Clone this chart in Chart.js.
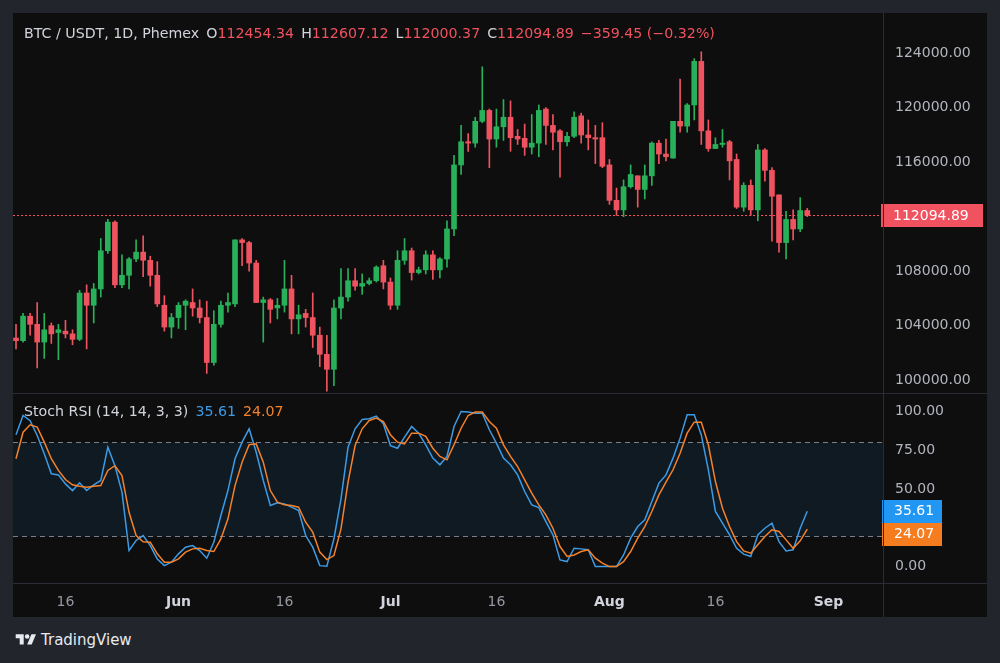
<!DOCTYPE html>
<html>
<head>
<meta charset="utf-8">
<script src="https://cdn.jsdelivr.net/npm/chart.js@4.4.1/dist/chart.umd.min.js"></script>
<style>
  html, body { margin: 0; padding: 0; width: 1000px; height: 663px; overflow: hidden; background: #22252c; font-family: "DejaVu Sans", sans-serif; }
  #panel { position: absolute; left: 13px; top: 13px; width: 974px; height: 604px; background: #0e0e0e; }
  #priceWrap { position: absolute; left: 0; top: 0; width: 974px; height: 380px; }
  #stochWrap { position: absolute; left: 0; top: 380px; width: 974px; height: 224px; }
  .hl { position: absolute; height: 1px; background: #2a2d34; }
  .vl { position: absolute; width: 1px; background: #2a2d34; }
  .legend { position: absolute; font-size: 14.2px; color: #d1d4dc; white-space: nowrap; }
  .legend .r { color: #f0525f; }
  .legend span.gap { margin-left: 7px; }
  #logo { position: absolute; left: 14px; top: 631px; color: #e8eaf0; font-size: 15px; font-weight: normal; display: flex; align-items: center; gap: 3px; }
</style>
</head>
<body>
<div id="panel">
  <div id="priceWrap"><canvas id="priceChart" width="974" height="380"></canvas></div>
  <div id="stochWrap"><canvas id="stochChart" width="974" height="224"></canvas></div>
  <div class="hl" style="left:0;top:380px;width:974px;"></div>
  <div class="hl" style="left:0;top:570px;width:974px;"></div>
  <div class="vl" style="left:870px;top:0;height:604px;"></div>
  <div class="legend" id="priceLegend" style="left:11px;top:12px;"></div>
  <div class="legend" id="stochLegend" style="left:11px;top:390px;"></div>
</div>
<div id="logo">
  <svg width="24" height="16" viewBox="0 0 36 28"><path d="M14 22H7V11H0V4h14v18zM28 22h-8l7.5-18h8L28 22z" fill="#e8eaf0"/><circle cx="20" cy="8" r="4" fill="#e8eaf0"/></svg>
  <span>TradingView</span>
</div>
<script>
// daily candles, 9 May -> 29 Aug
const openP = [
  103100, 102900, 104700, 104100, 102800, 104000, 103500, 103600, 103400, 103000,
  106400, 105500, 106700, 109500, 111600, 107000, 107700, 108900, 109400, 108800,
  107700, 105500, 103900, 104600, 105500, 105700, 105300, 104600, 101300, 104100,
  105500, 105600, 110300, 110100, 108600, 105700, 105900, 105300, 105500, 106700,
  104500, 104900, 104600, 103300, 101900, 100800, 105300, 106100, 107300, 106900,
  107100, 107300, 108400, 107200, 105500, 108800, 109500, 107900, 108100, 109200,
  108100, 108900, 111100, 115800, 117500, 117400, 119000, 119800, 117700, 118600,
  119300, 117900, 117750, 117100, 117400, 119900, 118700, 118300, 117500, 117900,
  119400, 118000, 117800, 117800, 115800, 113200, 112500, 114200, 115000, 114000,
  115000, 117400, 116600, 116300, 119000, 118650, 120200, 123400, 118300, 117000,
  117300, 117500, 116200, 112700, 114300, 112500, 116900, 115400, 113600, 110100,
  111800, 111100, 112454.34
];
const highP = [
  104100, 104900, 104900, 105700, 104900, 104200, 104100, 104400, 103700, 106600,
  107000, 107100, 110400, 111800, 111700, 109200, 109000, 110300, 110600, 109100,
  108700, 106200, 104900, 105700, 105900, 106700, 105900, 105800, 105100, 105800,
  106400, 110300, 110400, 110200, 108800, 106100, 106000, 106000, 108800, 107700,
  105500, 105200, 106400, 103900, 103300, 105900, 108200, 108200, 108200, 107800,
  107500, 108400, 108800, 107500, 109500, 110400, 109700, 108300, 109500, 109500,
  109000, 111700, 116500, 118700, 118100, 119300, 123000, 119900, 119900, 120600,
  120500, 118400, 118800, 119500, 120200, 120000, 119500, 118400, 118200, 119700,
  119600, 119100, 118700, 118900, 116200, 114100, 114700, 115800, 115000, 115800,
  117500, 117600, 117700, 119000, 122100, 120300, 123600, 124100, 119100, 117800,
  118400, 117600, 116600, 114500, 114700, 117300, 117000, 115600, 113600, 112400,
  112500, 113400, 112607.12
];
const lowP = [
  102300, 102800, 103300, 100900, 101600, 102700, 101500, 103100, 102600, 102900,
  102300, 104200, 106100, 109300, 106800, 106800, 106700, 108700, 107600, 106900,
  105400, 103600, 103100, 103800, 103700, 104700, 104200, 100500, 101100, 103900,
  105000, 105400, 108400, 108000, 105700, 102800, 104200, 104500, 105000, 103400,
  103400, 103900, 102400, 101000, 99200, 99600, 104500, 105800, 106600, 106300,
  107000, 107200, 106700, 105200, 105200, 108500, 107350, 107800, 107800, 107400,
  107500, 108300, 110600, 115100, 116800, 117100, 118900, 115600, 117100, 117600,
  116800, 117300, 116500, 116600, 116400, 117300, 116900, 114900, 117200, 117800,
  117400, 116900, 115900, 115600, 112900, 112100, 112000, 114100, 112700, 113300,
  114300, 115900, 116100, 116300, 118200, 118200, 119100, 117300, 116800, 117000,
  117100, 114700, 112600, 112400, 112100, 111700, 114600, 110200, 109400, 108900,
  110300, 110900, 112000.37
];
const closeP = [
  102900, 104700, 104100, 102800, 103700, 103400, 103700, 103400, 103000, 106400,
  105500, 106700, 109500, 111600, 107000, 107700, 108900, 109400, 108800, 107700,
  105600, 103900, 104600, 105500, 105800, 105300, 104600, 101300, 104100, 105500,
  105700, 110300, 110100, 108600, 105700, 105900, 105200, 105500, 106700, 104500,
  104800, 104600, 103300, 101900, 100800, 105300, 106100, 107300, 106900, 107100,
  107300, 108300, 107200, 105500, 108800, 109500, 107900, 108100, 109200, 108100,
  108900, 111100, 115800, 117500, 117400, 119000, 119800, 117700, 118600, 119300,
  117800, 117700, 117100, 117400, 119800, 118700, 118200, 117500, 117900, 119300,
  118000, 117800, 117700, 115700, 113200, 112500, 114200, 115100, 114000, 115000,
  117400, 116600, 116400, 119000, 118650, 120200, 123400, 118300, 117000, 117300,
  117400, 116100, 112700, 114300, 112500, 116900, 115400, 113500, 110100, 111800,
  111100, 112454.34, 112094.89
];

// Stoch RSI (14, 14, 3, 3): %K and %D
const stochK = [
  85, 97.4, 94, 84.5, 72.7, 59.8, 59.1, 53.3, 49, 54,
  49, 52.7, 55.5, 77, 65, 48, 10.3, 16.8, 20, 13.5,
  4.9, 0.6, 2.8, 8.2, 12.5, 13.5, 10.3, 5.4, 15.7, 32.9,
  49, 69.5, 80.2, 88.8, 73.7, 55.5, 39.4, 41.1, 40.4, 38.3,
  36.1, 20, 12.5, 0.6, 0.2, 17.9, 43.7, 77, 88.8, 94.8,
  95.3, 97, 92, 78, 76.3, 83.4, 90.3, 86, 78.5, 69.9,
  65.6, 71, 90.3, 100, 99.6, 98.9, 98.9, 88.2, 79.6, 69.9,
  65.6, 59.1, 48.4, 39.8, 38, 29, 20.4, 4.3, 3.2, 11.8,
  11.4, 10.8, 0, 0, 0, 0, 7.5, 18.3, 25.8, 30.1,
  41.9, 53.8, 59.1, 69.9, 82.8, 97.8, 97.8, 84.9, 62.4, 35.5,
  28, 20.4, 11.8, 8, 6.5, 20.4, 24.7, 28, 16.1, 10.1,
  10.8, 24.7, 35.61
];
const stochD = [
  69.5, 86.6, 91.4, 89.9, 80.2, 69.5, 62, 56.1, 52.7, 51.8,
  51.2, 51.8, 52.2, 62, 65, 58.7, 35, 20, 16, 15.7,
  8.2, 2.8, 2.8, 5, 9.3, 11.4, 11.8, 10.3, 9.7, 17.8,
  30.8, 52.2, 67.3, 78.5, 79.1, 67.3, 49, 41.5, 39.8, 39.4,
  38.3, 28.6, 22.2, 9.3, 4.5, 7.1, 24.3, 54.4, 78, 88.8,
  94.2, 95.7, 93.5, 85, 80.2, 79.1, 86, 86, 83.9, 76.3,
  71, 68.8, 78.5, 89.2, 97.4, 99.6, 99.6, 93.5, 89.2, 78.5,
  71, 64.5, 55.9, 47.3, 39.8, 33.3, 24.7, 12.9, 6.5, 7.5,
  9.7, 10.8, 5.4, 2.2, 0, 0, 3.2, 9.7, 18.3, 25.8,
  35.5, 46.2, 54.4, 62.4, 73.1, 86, 93.1, 93.1, 78.5, 54.8,
  37.6, 25.8, 16.1, 10.1, 8.6, 14, 19.4, 23.7, 22.6, 17.2,
  11.8, 16.6, 24.07
];

const priceTicks = [100000, 104000, 108000, 116000, 120000, 124000];
const stochTicks = [0, 25, 50, 75, 100];
const tickIndex = [7, 23, 38, 53, 68, 84, 99, 115];
const tickLabels = ["16", "Jun", "16", "Jul", "16", "Aug", "16", "Sep"];

const FONT = '"DejaVu Sans", sans-serif';
const UP = '#29b05a', DOWN = '#ef5360';
const X_MIN = -0.425, X_MAX = 122.72;

const n = closeP.length;
const idx = closeP.map((_, i) => i);
const candleColor = idx.map(i => closeP[i] >= openP[i] ? UP : DOWN);

// legends
const last = n - 1;
const chg = closeP[last] - closeP[last - 1];
const pct = chg / closeP[last - 1] * 100;
const f2 = v => v.toFixed(2);
const minus = s => s.replace('-', '\u2212');
document.getElementById('priceLegend').innerHTML =
  'BTC / USDT, 1D, Phemex' +
  '<span class="gap">O<span class="r">' + f2(openP[last]) + '</span></span>' +
  '<span class="gap">H<span class="r">' + f2(highP[last]) + '</span></span>' +
  '<span class="gap">L<span class="r">' + f2(lowP[last]) + '</span></span>' +
  '<span class="gap">C<span class="r">' + f2(closeP[last]) + '</span></span>' +
  '<span class="gap r">' + minus(f2(chg)) + ' (' + minus(f2(pct)) + '%)</span>';
document.getElementById('stochLegend').innerHTML =
  'Stoch RSI (14, 14, 3, 3)' +
  '<span class="gap" style="color:#3d9be6">' + f2(stochK[last]) + '</span>' +
  '<span class="gap" style="color:#f5822a">' + f2(stochD[last]) + '</span>';

function valueBox(ctx, x, yMid, w, text, bg) {
  ctx.save();
  ctx.fillStyle = bg;
  ctx.fillRect(x, Math.round(yMid - 11.5), w, 23);
  ctx.fillStyle = '#ffffff';
  ctx.font = '14px ' + FONT;
  ctx.textBaseline = 'middle';
  ctx.textAlign = 'left';
  ctx.fillText(text, x + 12, yMid + 0.5);
  ctx.restore();
}

const lastPricePlugin = {
  id: 'lastPrice',
  beforeDatasetsDraw(chart) {
    const { ctx, chartArea } = chart;
    const y = Math.round(chart.scales.y.getPixelForValue(closeP[last])) + 0.5;
    ctx.save();
    ctx.strokeStyle = '#f0525f';
    ctx.lineWidth = 1;
    ctx.setLineDash([2, 2]);
    ctx.beginPath();
    ctx.moveTo(chartArea.left, y);
    ctx.lineTo(chartArea.right, y);
    ctx.stroke();
    ctx.restore();
  },
  afterDraw(chart) {
    const y = chart.scales.y.getPixelForValue(closeP[last]);
    valueBox(chart.ctx, chart.chartArea.right - 2, y, 102, f2(closeP[last]), '#f0525f');
  }
};

const stochPlugin = {
  id: 'stochBand',
  beforeDatasetsDraw(chart) {
    const { ctx, chartArea } = chart;
    const ys = chart.scales.y;
    const y80 = Math.round(ys.getPixelForValue(80)) + 0.5;
    const y20 = Math.round(ys.getPixelForValue(20)) + 0.5;
    ctx.save();
    ctx.fillStyle = 'rgba(33,150,243,0.09)';
    ctx.fillRect(chartArea.left, y80, chartArea.right - chartArea.left, y20 - y80);
    ctx.strokeStyle = 'rgba(140,144,155,0.85)';
    ctx.lineWidth = 1;
    ctx.setLineDash([5, 4]);
    [y80, y20].forEach(y => {
      ctx.beginPath();
      ctx.moveTo(chartArea.left, y);
      ctx.lineTo(chartArea.right, y);
      ctx.stroke();
    });
    ctx.restore();
  },
  afterDraw(chart) {
    const ys = chart.scales.y;
    const yK = ys.getPixelForValue(stochK[last]);
    let yD = ys.getPixelForValue(stochD[last]);
    if (Math.abs(yD - yK) < 23) yD = yK + 23;
    const x = chart.chartArea.right - 1;
    valueBox(chart.ctx, x, yK, 60, f2(stochK[last]), '#2196f3');
    valueBox(chart.ctx, x, yD, 60, f2(stochD[last]), '#f57c1f');
  }
};

const yAxisBase = {
  position: 'right',
  grid: { display: false, drawTicks: false },
  border: { display: false },
  ticks: { color: '#b2b5be', font: { family: FONT, size: 14 }, padding: 12, callback: v => v.toFixed(2) },
  afterFit: s => { s.width = 104; s.paddingTop = 0; s.paddingBottom = 0; }
};

new Chart(document.getElementById('priceChart'), {
  type: 'bar',
  data: {
    datasets: [
      {
        data: idx.map(i => ({ x: i, y: [lowP[i], highP[i]] })),
        backgroundColor: candleColor,
        barThickness: 1,
        grouped: false
      },
      {
        data: idx.map(i => ({ x: i, y: [openP[i], closeP[i]] })),
        backgroundColor: candleColor,
        barThickness: 5,
        minBarLength: 1,
        grouped: false
      }
    ]
  },
  options: {
    responsive: false,
    animation: false,
    layout: { padding: 0 },
    plugins: { legend: { display: false }, tooltip: { enabled: false } },
    scales: {
      x: { type: 'linear', min: X_MIN, max: X_MAX, offset: false, display: false },
      y: Object.assign({}, yAxisBase, {
        min: 99061, max: 126950,
        afterBuildTicks: s => { s.ticks = priceTicks.map(v => ({ value: v })); }
      })
    }
  },
  plugins: [lastPricePlugin]
});

new Chart(document.getElementById('stochChart'), {
  type: 'line',
  data: {
    datasets: [
      { data: idx.map(i => ({ x: i, y: stochD[i] })), borderColor: '#f5822a', borderWidth: 1.5, pointRadius: 0, tension: 0 },
      { data: idx.map(i => ({ x: i, y: stochK[i] })), borderColor: '#3d9be6', borderWidth: 1.5, pointRadius: 0, tension: 0 }
    ]
  },
  options: {
    responsive: false,
    animation: false,
    layout: { padding: 0 },
    plugins: { legend: { display: false }, tooltip: { enabled: false } },
    scales: {
      x: {
        type: 'linear', min: X_MIN, max: X_MAX, offset: false,
        grid: { display: false, drawTicks: false },
        border: { display: false },
        afterBuildTicks: s => { s.ticks = tickIndex.map(v => ({ value: v })); },
        afterFit: s => { s.height = 34; s.paddingLeft = 0; s.paddingRight = 0; },
        ticks: {
          autoSkip: false, maxRotation: 0, padding: 11,
          callback: (v, i) => tickLabels[i],
          color: c => /\d/.test(tickLabels[c.index]) ? '#9598a1' : '#d1d4dc',
          font: c => ({ family: FONT, size: 14, weight: /\d/.test(tickLabels[c.index]) ? 'normal' : 'bold' })
        }
      },
      y: Object.assign({}, yAxisBase, {
        min: -10.6, max: 111.9,
        afterBuildTicks: s => { s.ticks = stochTicks.map(v => ({ value: v })); }
      })
    }
  },
  plugins: [stochPlugin]
});
</script>
</body>
</html>
